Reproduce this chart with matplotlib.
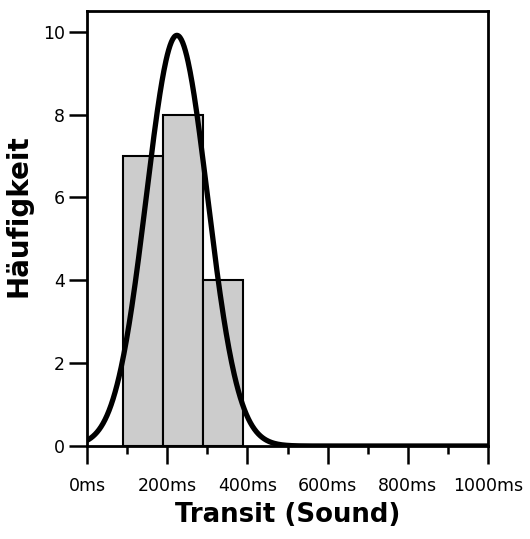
import numpy as np
import matplotlib
matplotlib.use("Agg")
from matplotlib import pyplot as plt

# histogram of transit times (ms)
bin_edges = [90, 190, 290, 390]
counts = [7, 8, 4]
x_ticks = [0, 200, 400, 600, 800, 1000]
x_ticklabels = ['0ms', '200ms', '400ms', '600ms', '800ms', '1000ms']
y_ticks = [0, 2, 4, 6, 8, 10]

# normal fit from the binned data
mids = (np.array(bin_edges[:-1]) + np.array(bin_edges[1:])) / 2
w = np.array(counts)
n = w.sum()
mean = (mids * w).sum() / n
sd = np.sqrt((w * (mids - mean) ** 2).sum() / (n - 1))
bw = bin_edges[1] - bin_edges[0]
xs = np.linspace(0, 1000, 600)
ys = n * bw * np.exp(-(xs - mean) ** 2 / (2 * sd ** 2)) / (sd * np.sqrt(2 * np.pi))

fig = plt.figure(figsize=(5.3, 5.39), dpi=100)
ax = fig.add_axes([87 / 530, 1 - 446 / 539, 401 / 530, 435 / 539])

ax.bar(bin_edges[:-1], counts, width=np.diff(bin_edges), align='edge',
       color='#cccccc', edgecolor='black', linewidth=1.5, zorder=2)
ax.plot(xs, ys, color='black', linewidth=3.8, zorder=3, solid_capstyle='round')

ax.set_xlim(0, 1000)
ax.set_ylim(0, 10.5)
ax.set_xticks(x_ticks)
ax.set_xticklabels(x_ticklabels)
ax.set_xticks([100, 300, 500, 700, 900], minor=True)
ax.set_yticks(y_ticks)
ax.tick_params(axis='both', which='major', length=13, width=1.8, labelsize=12.5, pad=3)
ax.tick_params(axis='x', which='minor', length=6, width=1.8)
ax.tick_params(axis='x', pad=9)
for s in ax.spines.values():
    s.set_linewidth(2)

ax.set_xlabel('Transit (Sound)', fontsize=18.7, fontweight='bold', labelpad=5)
ax.set_ylabel('Häufigkeit', fontsize=20, fontweight='bold')
ax.yaxis.set_label_coords(-0.135, 0.53)

fig.savefig('out.png', dpi=100)
